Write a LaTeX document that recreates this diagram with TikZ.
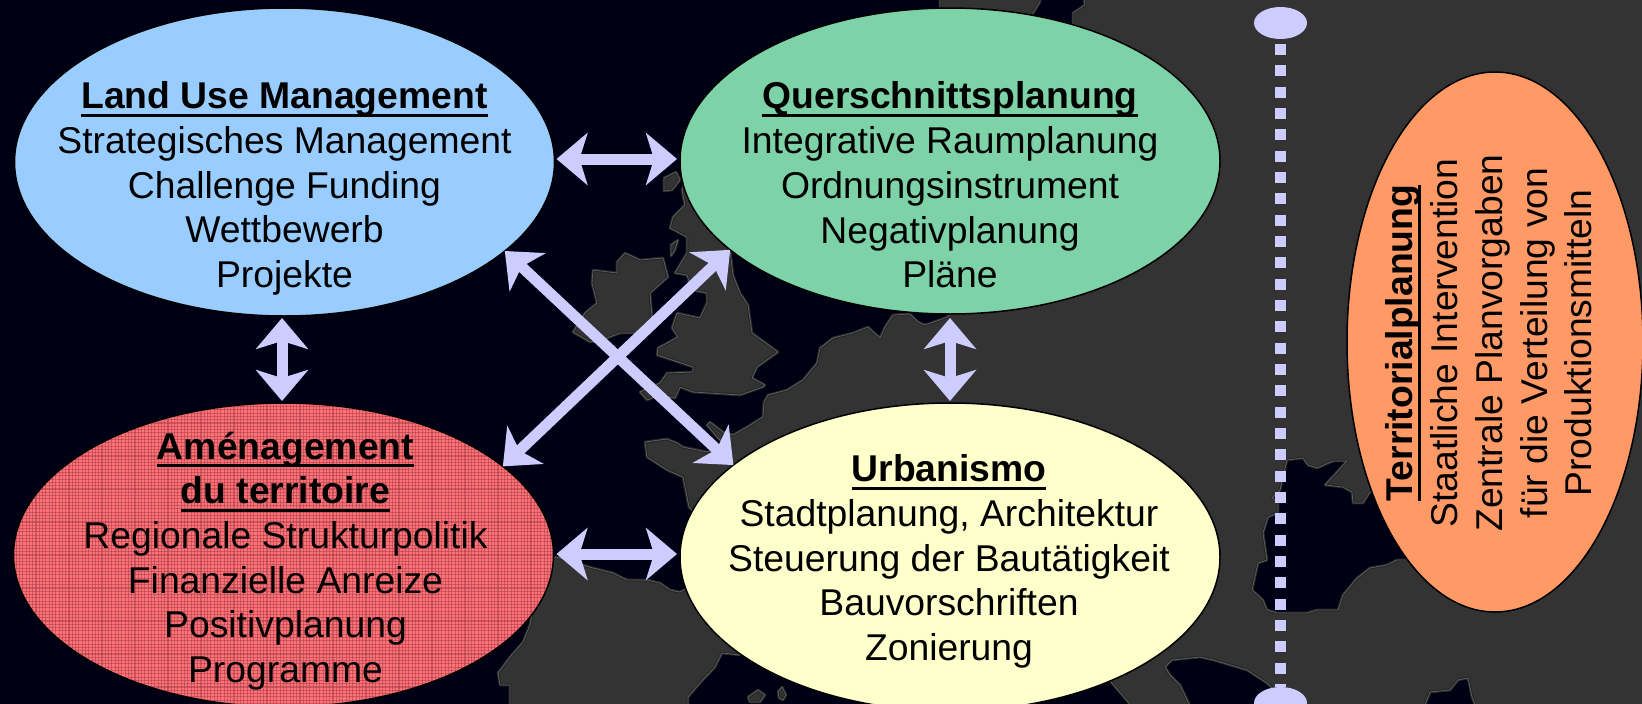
\documentclass[tikz,border=0pt]{standalone}
\usepackage{fontspec}
\setmainfont{Liberation Sans}
\usetikzlibrary{arrows.meta,shapes.geometric}
\definecolor{seac}{HTML}{000014}
\definecolor{landc}{HTML}{333333}
\definecolor{edgea}{HTML}{242424}
\definecolor{edgeb}{HTML}{5E5E5E}
\definecolor{peri}{HTML}{CCCCFF}
\definecolor{bluec}{HTML}{99CCFF}
\definecolor{greenc}{HTML}{7DD2A8}
\definecolor{yellowc}{HTML}{FFFFCC}
\definecolor{orangec}{HTML}{FF9966}
\definecolor{redc}{HTML}{FF7276}
\definecolor{gridc}{HTML}{A83E4C}
\newcommand\coast[2]{\draw[fill=#1,draw=edgea,line width=2.8pt,line join=round] #2;\draw[draw=edgeb,line width=.8pt,line join=round] #2;}
\newcommand\ulin[1]{\leavevmode\setbox0\hbox{\bfseries #1}\rlap{\rule[-7.8pt]{\wd0}{2.6pt}}\box0}
\tikzset{
  zone/.style={ellipse,draw=black,line width=1.5pt,minimum width=540pt,minimum height=306pt,inner sep=0pt,outer sep=0pt},
  words/.style={align=center,inner sep=0pt,font=\fontsize{37.3}{44.7}\selectfont},
  biarrow/.style={draw=peri,line width=11pt,{Stealth[length=31pt,width=52pt,inset=8pt]}-{Stealth[length=31pt,width=52pt,inset=8pt]}},
  dotline/.style={draw=peri,line width=11pt,dash pattern=on 11pt off 10.33pt},
  endcap/.style={ellipse,fill=peri,minimum width=53pt,minimum height=32pt,inner sep=0pt,outer sep=0pt},
  gridline/.style={draw=gridc,line width=1.1pt,opacity=.55}
}
\begin{document}
\begin{tikzpicture}[x=1pt,y=-1pt]
\useasboundingbox (0,0) rectangle (1642,704);
\clip (0,0) rectangle (1642,704);
\fill[landc] (0,0) rectangle (1642,704);
% Atlantic, North Sea
\coast{seac}{(-6,-6) -- (1083,-6) -- (1085,5) -- (1073,13) -- (1073,24) -- (1060,100) -- (1000,300) -- (960,310) -- (945,318) -- (925,325) -- (918,322) -- (910,314) -- (893,315) -- (885,327) -- (880,338) -- (868,327) -- (853,333) -- (833,338) -- (820,348) -- (817,363) -- (803,380) -- (787,390) -- (768,395) -- (764,402) -- (763,417) -- (747,427) -- (733,435) -- (723,432) -- (710,422) -- (707,425) -- (717,437) -- (727,447) -- (707,452) -- (683,447) -- (677,443) -- (667,439) -- (645,442) -- (647,457) -- (667,470) -- (683,477) -- (689,507) -- (720,540) -- (720,570) -- (684,590) -- (680,592) -- (670,590) -- (660,583) -- (647,580) -- (627,580) -- (613,573) -- (593,568) -- (556,557) -- (540,570) -- (530,625) -- (523,642) -- (510,657) -- (498,673) -- (500,685) -- (510,685) -- (510,710) -- (-6,710) -- cycle}
% Norway
\coast{landc}{(940,-6) -- (1040,-6) -- (1040,2) -- (1033,13) -- (1000,40) -- (945,14) -- (940,8) -- cycle}
% Ireland
\coast{landc}{(593,270) -- (617,273) -- (617,262) -- (625,253) -- (640,260) -- (663,258) -- (668,277) -- (650,293) -- (652,317) -- (637,333) -- (620,333) -- (607,338) -- (590,342) -- (573,332) -- (585,313) -- (597,303) -- (592,283) -- cycle}
% Great Britain
\coast{landc}{(690,170) -- (682,190) -- (685,205) -- (673,217) -- (670,228) -- (687,237) -- (687,253) -- (675,273) -- (687,275) -- (692,290) -- (707,293) -- (707,303) -- (700,318) -- (677,313) -- (672,328) -- (678,337) -- (658,348) -- (657,355) -- (693,367) -- (693,372) -- (667,373) -- (660,383) -- (640,392) -- (647,400) -- (660,395) -- (675,398) -- (680,387) -- (693,392) -- (740,395) -- (763,387) -- (765,385) -- (752,378) -- (757,367) -- (778,352) -- (752,333) -- (748,305) -- (740,293) -- (733,275) -- (730,250) -- (750,220) -- (720,170) -- cycle}
% small islands
\coast{landc}{(664,178) -- (676,172) -- (680,180) -- (672,190) -- (664,191) -- cycle}
\coast{landc}{(671,245) -- (678,240) -- (675,250) -- (671,256) -- cycle}
% Mediterranean
\coast{seac}{(740,655) -- (722,653) -- (715,667) -- (700,683) -- (688,697) -- (688,710) -- (1134,710) -- (1129,703) -- (1111,682) -- (1090,650) -- (950,600) -- (760,620) -- cycle}
\coast{landc}{(748,697) -- (758,690) -- (765,695) -- (760,702) -- (750,702) -- cycle}
\coast{landc}{(778,692) -- (782,687) -- (786,695) -- (783,700) -- (779,698) -- cycle}
% Adriatic
\coast{seac}{(1165,667) -- (1172,660) -- (1200,657) -- (1213,660) -- (1247,670) -- (1267,683) -- (1295,710) -- (1192,710) -- (1180,685) -- (1170,675) -- cycle}
% Baltic
\coast{seac}{(1287,460) -- (1303,458) -- (1308,465) -- (1317,468) -- (1333,461) -- (1347,461) -- (1325,485) -- (1343,487) -- (1352,492) -- (1353,503) -- (1363,503) -- (1370,492) -- (1450,500) -- (1407,560) -- (1397,560) -- (1387,565) -- (1370,568) -- (1357,578) -- (1343,595) -- (1338,610) -- (1317,610) -- (1307,613) -- (1277,613) -- (1267,610) -- (1263,600) -- (1252,590) -- (1258,563) -- (1267,560) -- (1263,533) -- (1268,517) -- (1278,513) -- (1278,503) -- (1272,498) -- (1280,490) -- cycle}
% Black Sea
\coast{seac}{(1423,710) -- (1430,692) -- (1450,690) -- (1458,680) -- (1468,678) -- (1472,697) -- (1477,710) -- cycle}

% scale line
\node[endcap] (tp) at (1280.5,23) {};
\node[endcap] (bt) at (1280.5,703) {};
\draw[dotline] ([yshift=-5pt]tp.south) -- (bt.north);

% ellipses
\node[zone,fill=bluec,minimum height=308pt] (lu) at (284.5,162) {};
\node[zone,fill=greenc] (qu) at (950,161) {};
\node[zone,fill=redc,minimum height=304pt,path picture={
  \foreach \i in {-85,...,85} {\draw[gridline] (\i*3.3,-170) -- (\i*3.3,170);}
  \foreach \i in {-50,...,50} {\draw[gridline] (-290,\i*3.3) -- (290,\i*3.3);}
}] (am) at (283.5,555) {};
\node[zone,fill=yellowc,minimum height=308pt] (ur) at (950,557) {};
\node[zone,fill=orangec,minimum width=296pt,minimum height=540pt] (te) at (1495,342) {};

% arrows
\draw[biarrow,shorten <=2pt,shorten >=3pt] ([yshift=3pt]lu.east) -- ([yshift=2pt]qu.west);
\draw[biarrow,shorten <=3pt,shorten >=3pt] ([yshift=1pt]am.east) -- ([yshift=3pt]ur.west);
\draw[biarrow,shorten <=2pt,shorten >=2pt] ([xshift=-2.5pt]lu.south) -- ([xshift=-1.5pt]am.north);
\draw[biarrow,shorten <=4pt,shorten >=2pt] (qu.south) -- (ur.north);
\draw[biarrow] (lu.-22.3) -- (ur.157.5);
\draw[biarrow] (qu.202.75) -- (am.22.2);

% texts
\node[words] (lut) at (284.5,188.5) {\ulin{Land Use Management}\\Strategisches Management\\Challenge Funding\\Wettbewerb\\Projekte};
\node[words] (qut) at (950,185) {\ulin{Querschnittsplanung}\\Integrative Raumplanung\\Ordnungsinstrument\\Negativplanung\\Pläne};
\node[words] (amt) at (285.5,561) {\ulin{Aménagement}\\\ulin{du territoire}\\Regionale Strukturpolitik\\Finanzielle Anreize\\Positivplanung\\Programme};
\node[words] (urt) at (949,561.5) {\ulin{Urbanismo}\\Stadtplanung, Architektur\\Steuerung der Bautätigkeit\\Bauvorschriften\\Zonierung};
\node[words,rotate=90] (tet) at (1489,343) {\ulin{Territorialplanung}\\Staatliche Intervention\\Zentrale Planvorgaben\\für die Verteilung von\\Produktionsmitteln};
\end{tikzpicture}
\end{document}
